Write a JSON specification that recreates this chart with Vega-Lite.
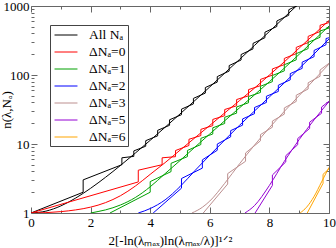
{
  "$schema": "https://vega.github.io/schema/vega-lite/v6.json",
  "width": 298,
  "height": 207,
  "autosize": "none",
  "padding": {"left": 31, "top": 6, "right": 7, "bottom": 35},
  "background": "white",
  "datasets": {
    "smooth": [
      {"s":"All Nₐ","x":0,"n":1},{"s":"All Nₐ","x":0.5,"n":1.064},{"s":"All Nₐ","x":1,"n":1.266},{"s":"All Nₐ","x":1.5,"n":1.647},{"s":"All Nₐ","x":2,"n":2.28},{"s":"All Nₐ","x":2.5,"n":3.29},{"s":"All Nₐ","x":3,"n":4.88},{"s":"All Nₐ","x":3.5,"n":7.38},{"s":"All Nₐ","x":4,"n":11.3},{"s":"All Nₐ","x":4.5,"n":17.48},{"s":"All Nₐ","x":5,"n":27.24},{"s":"All Nₐ","x":5.5,"n":42.7},{"s":"All Nₐ","x":6,"n":67.2},{"s":"All Nₐ","x":6.5,"n":106.3},{"s":"All Nₐ","x":7,"n":168.6},{"s":"All Nₐ","x":7.5,"n":268.2},{"s":"All Nₐ","x":8,"n":427.6},{"s":"All Nₐ","x":8.5,"n":683.2},{"s":"All Nₐ","x":9,"n":1093.6},
      {"s":"ΔNₐ=0","x":0,"n":1},{"s":"ΔNₐ=0","x":0.5,"n":1.012},{"s":"ΔNₐ=0","x":1,"n":1.047},{"s":"ΔNₐ=0","x":1.5,"n":1.109},{"s":"ΔNₐ=0","x":2,"n":1.216},{"s":"ΔNₐ=0","x":2.5,"n":1.413},{"s":"ΔNₐ=0","x":3,"n":1.778},{"s":"ΔNₐ=0","x":3.5,"n":2.455},{"s":"ΔNₐ=0","x":4,"n":3.631},{"s":"ΔNₐ=0","x":4.5,"n":5.37},{"s":"ΔNₐ=0","x":5,"n":8.13},{"s":"ΔNₐ=0","x":5.5,"n":12.3},{"s":"ΔNₐ=0","x":6,"n":18.6},{"s":"ΔNₐ=0","x":6.5,"n":28.2},{"s":"ΔNₐ=0","x":7,"n":42.7},{"s":"ΔNₐ=0","x":7.5,"n":64.6},{"s":"ΔNₐ=0","x":8,"n":100},{"s":"ΔNₐ=0","x":8.5,"n":155},{"s":"ΔNₐ=0","x":9,"n":245.5},{"s":"ΔNₐ=0","x":9.5,"n":389},{"s":"ΔNₐ=0","x":10,"n":617},
      {"s":"ΔNₐ=1","x":2,"n":1},{"s":"ΔNₐ=1","x":2.25,"n":1.05},{"s":"ΔNₐ=1","x":2.5,"n":1.109},{"s":"ΔNₐ=1","x":3,"n":1.306},{"s":"ΔNₐ=1","x":3.5,"n":1.675},{"s":"ΔNₐ=1","x":4,"n":2.399},{"s":"ΔNₐ=1","x":4.5,"n":3.72},{"s":"ΔNₐ=1","x":5,"n":5.75},{"s":"ΔNₐ=1","x":5.5,"n":9.0},{"s":"ΔNₐ=1","x":6,"n":14.0},{"s":"ΔNₐ=1","x":6.5,"n":21.7},{"s":"ΔNₐ=1","x":7,"n":33.5},{"s":"ΔNₐ=1","x":7.5,"n":51.5},{"s":"ΔNₐ=1","x":8,"n":80},{"s":"ΔNₐ=1","x":8.5,"n":125.6},{"s":"ΔNₐ=1","x":9,"n":199.5},{"s":"ΔNₐ=1","x":9.5,"n":320},{"s":"ΔNₐ=1","x":10,"n":512},
      {"s":"ΔNₐ=2","x":3.6,"n":1},{"s":"ΔNₐ=2","x":4,"n":1.16},{"s":"ΔNₐ=2","x":4.5,"n":1.55},{"s":"ΔNₐ=2","x":5,"n":2.41},{"s":"ΔNₐ=2","x":5.5,"n":4.11},{"s":"ΔNₐ=2","x":6,"n":6.89},{"s":"ΔNₐ=2","x":6.5,"n":11.4},{"s":"ΔNₐ=2","x":7,"n":18.7},{"s":"ΔNₐ=2","x":7.5,"n":30.1},{"s":"ΔNₐ=2","x":8,"n":48.1},{"s":"ΔNₐ=2","x":8.5,"n":76.9},{"s":"ΔNₐ=2","x":9,"n":124.5},{"s":"ΔNₐ=2","x":9.5,"n":202},{"s":"ΔNₐ=2","x":10,"n":333},
      {"s":"ΔNₐ=3","x":5.4,"n":1},{"s":"ΔNₐ=3","x":5.75,"n":1.21},{"s":"ΔNₐ=3","x":6,"n":1.49},{"s":"ΔNₐ=3","x":6.5,"n":2.69},{"s":"ΔNₐ=3","x":7,"n":5.18},{"s":"ΔNₐ=3","x":7.5,"n":9.64},{"s":"ΔNₐ=3","x":8,"n":17.2},{"s":"ΔNₐ=3","x":8.5,"n":29.7},{"s":"ΔNₐ=3","x":9,"n":50.4},{"s":"ΔNₐ=3","x":9.5,"n":85.1},{"s":"ΔNₐ=3","x":10,"n":144},
      {"s":"ΔNₐ=5","x":7.18,"n":1},{"s":"ΔNₐ=5","x":7.5,"n":1.28},{"s":"ΔNₐ=5","x":8,"n":2.51},{"s":"ΔNₐ=5","x":8.5,"n":5.6},{"s":"ΔNₐ=5","x":9,"n":11.6},{"s":"ΔNₐ=5","x":9.5,"n":22.4},{"s":"ΔNₐ=5","x":10,"n":41.3},
      {"s":"ΔNₐ=6","x":9.03,"n":1},{"s":"ΔNₐ=6","x":9.25,"n":1.216},{"s":"ΔNₐ=6","x":9.5,"n":1.738},{"s":"ΔNₐ=6","x":9.75,"n":2.82},{"s":"ΔNₐ=6","x":10,"n":4.58}
    ],
    "jagged": [
      {"s":"All Nₐ","x":0,"n":1},{"s":"All Nₐ","x":1.75,"n":2.0},{"s":"All Nₐ","x":1.75,"n":3.02},{"s":"All Nₐ","x":3.05,"n":5.01},{"s":"All Nₐ","x":3.05,"n":6.31},{"s":"All Nₐ","x":3.45,"n":6.61},{"s":"All Nₐ","x":3.45,"n":7.94},{"s":"All Nₐ","x":3.85,"n":9.29},{"s":"All Nₐ","x":3.85,"n":11.17},{"s":"All Nₐ","x":4.25,"n":13.12},{"s":"All Nₐ","x":4.25,"n":15.78},{"s":"All Nₐ","x":4.65,"n":18.66},{"s":"All Nₐ","x":4.65,"n":22.44},{"s":"All Nₐ","x":5.05,"n":26.6},{"s":"All Nₐ","x":5.05,"n":32.0},{"s":"All Nₐ","x":5.45,"n":38.1},{"s":"All Nₐ","x":5.45,"n":45.8},{"s":"All Nₐ","x":5.85,"n":54.7},{"s":"All Nₐ","x":5.85,"n":65.8},{"s":"All Nₐ","x":6.25,"n":78.9},{"s":"All Nₐ","x":6.25,"n":94.8},{"s":"All Nₐ","x":6.65,"n":114},{"s":"All Nₐ","x":6.65,"n":137},{"s":"All Nₐ","x":7.05,"n":165},{"s":"All Nₐ","x":7.05,"n":198},{"s":"All Nₐ","x":7.45,"n":239},{"s":"All Nₐ","x":7.45,"n":287},{"s":"All Nₐ","x":7.85,"n":347},{"s":"All Nₐ","x":7.85,"n":417},{"s":"All Nₐ","x":8.25,"n":505},{"s":"All Nₐ","x":8.25,"n":607},{"s":"All Nₐ","x":8.65,"n":735},{"s":"All Nₐ","x":8.65,"n":883},{"s":"All Nₐ","x":9.05,"n":1072},
      {"s":"ΔNₐ=0","x":0,"n":1},{"s":"ΔNₐ=0","x":3.6,"n":2.82},{"s":"ΔNₐ=0","x":3.6,"n":4.17},{"s":"ΔNₐ=0","x":4.4,"n":5.01},{"s":"ΔNₐ=0","x":4.4,"n":6.31},{"s":"ΔNₐ=0","x":4.85,"n":6.55},{"s":"ΔNₐ=0","x":4.85,"n":8.05},{"s":"ΔNₐ=0","x":5.3,"n":9.51},{"s":"ΔNₐ=0","x":5.3,"n":11.7},{"s":"ΔNₐ=0","x":5.7,"n":13.24},{"s":"ΔNₐ=0","x":5.7,"n":16.3},{"s":"ΔNₐ=0","x":6.1,"n":18.45},{"s":"ΔNₐ=0","x":6.1,"n":22.7},{"s":"ΔNₐ=0","x":6.5,"n":25.7},{"s":"ΔNₐ=0","x":6.5,"n":31.6},{"s":"ΔNₐ=0","x":6.9,"n":35.8},{"s":"ΔNₐ=0","x":6.9,"n":44.1},{"s":"ΔNₐ=0","x":7.3,"n":49.9},{"s":"ΔNₐ=0","x":7.3,"n":61.4},{"s":"ΔNₐ=0","x":7.7,"n":70.1},{"s":"ΔNₐ=0","x":7.7,"n":86.3},{"s":"ΔNₐ=0","x":8.1,"n":99.5},{"s":"ΔNₐ=0","x":8.1,"n":122.5},{"s":"ΔNₐ=0","x":8.5,"n":141.3},{"s":"ΔNₐ=0","x":8.5,"n":173.8},{"s":"ΔNₐ=0","x":8.9,"n":204.2},{"s":"ΔNₐ=0","x":8.9,"n":251.2},{"s":"ΔNₐ=0","x":9.3,"n":295},{"s":"ΔNₐ=0","x":9.3,"n":363},{"s":"ΔNₐ=0","x":9.7,"n":427},{"s":"ΔNₐ=0","x":9.7,"n":525},{"s":"ΔNₐ=0","x":10,"n":575},
      {"s":"ΔNₐ=1","x":2.65,"n":1},{"s":"ΔNₐ=1","x":4.0,"n":2.0},{"s":"ΔNₐ=1","x":4.0,"n":2.85},{"s":"ΔNₐ=1","x":4.7,"n":3.98},{"s":"ΔNₐ=1","x":4.7,"n":5.25},{"s":"ΔNₐ=1","x":5.25,"n":6.56},{"s":"ΔNₐ=1","x":5.25,"n":8.07},{"s":"ΔNₐ=1","x":5.7,"n":9.82},{"s":"ΔNₐ=1","x":5.7,"n":12.08},{"s":"ΔNₐ=1","x":6.1,"n":13.96},{"s":"ΔNₐ=1","x":6.1,"n":17.18},{"s":"ΔNₐ=1","x":6.5,"n":19.82},{"s":"ΔNₐ=1","x":6.5,"n":24.4},{"s":"ΔNₐ=1","x":6.9,"n":28.0},{"s":"ΔNₐ=1","x":6.9,"n":34.4},{"s":"ΔNₐ=1","x":7.3,"n":39.6},{"s":"ΔNₐ=1","x":7.3,"n":48.8},{"s":"ΔNₐ=1","x":7.7,"n":55.8},{"s":"ΔNₐ=1","x":7.7,"n":68.7},{"s":"ΔNₐ=1","x":8.1,"n":80.0},{"s":"ΔNₐ=1","x":8.1,"n":98.4},{"s":"ΔNₐ=1","x":8.5,"n":114.6},{"s":"ΔNₐ=1","x":8.5,"n":140.9},{"s":"ΔNₐ=1","x":8.9,"n":165.6},{"s":"ΔNₐ=1","x":8.9,"n":203.7},{"s":"ΔNₐ=1","x":9.3,"n":241.5},{"s":"ΔNₐ=1","x":9.3,"n":297},{"s":"ΔNₐ=1","x":9.7,"n":352},{"s":"ΔNₐ=1","x":9.7,"n":434},{"s":"ΔNₐ=1","x":10,"n":479},
      {"s":"ΔNₐ=2","x":4.1,"n":1},{"s":"ΔNₐ=2","x":5.05,"n":2.29},{"s":"ΔNₐ=2","x":5.05,"n":3.16},{"s":"ΔNₐ=2","x":5.75,"n":4.47},{"s":"ΔNₐ=2","x":5.75,"n":5.89},{"s":"ΔNₐ=2","x":6.25,"n":8.11},{"s":"ΔNₐ=2","x":6.25,"n":9.98},{"s":"ΔNₐ=2","x":6.7,"n":12.7},{"s":"ΔNₐ=2","x":6.7,"n":15.63},{"s":"ΔNₐ=2","x":7.1,"n":18.75},{"s":"ΔNₐ=2","x":7.1,"n":23.07},{"s":"ΔNₐ=2","x":7.5,"n":27.5},{"s":"ΔNₐ=2","x":7.5,"n":33.8},{"s":"ΔNₐ=2","x":7.9,"n":40.0},{"s":"ΔNₐ=2","x":7.9,"n":49.2},{"s":"ΔNₐ=2","x":8.3,"n":57.8},{"s":"ΔNₐ=2","x":8.3,"n":71.1},{"s":"ΔNₐ=2","x":8.7,"n":85.1},{"s":"ΔNₐ=2","x":8.7,"n":104.7},{"s":"ΔNₐ=2","x":9.1,"n":124.7},{"s":"ΔNₐ=2","x":9.1,"n":153.5},{"s":"ΔNₐ=2","x":9.5,"n":184.5},{"s":"ΔNₐ=2","x":9.5,"n":227},{"s":"ΔNₐ=2","x":9.9,"n":274.8},{"s":"ΔNₐ=2","x":9.9,"n":338},{"s":"ΔNₐ=2","x":10,"n":346.7},
      {"s":"ΔNₐ=3","x":5.78,"n":1},{"s":"ΔNₐ=3","x":6.6,"n":2.63},{"s":"ΔNₐ=3","x":6.6,"n":3.72},{"s":"ΔNₐ=3","x":7.2,"n":5.62},{"s":"ΔNₐ=3","x":7.2,"n":7.41},{"s":"ΔNₐ=3","x":7.7,"n":11.12},{"s":"ΔNₐ=3","x":7.7,"n":13.68},{"s":"ΔNₐ=3","x":8.1,"n":17.5},{"s":"ΔNₐ=3","x":8.1,"n":21.5},{"s":"ΔNₐ=3","x":8.5,"n":27.1},{"s":"ΔNₐ=3","x":8.5,"n":33.3},{"s":"ΔNₐ=3","x":8.9,"n":41.4},{"s":"ΔNₐ=3","x":8.9,"n":50.9},{"s":"ΔNₐ=3","x":9.3,"n":62.7},{"s":"ΔNₐ=3","x":9.3,"n":77.1},{"s":"ΔNₐ=3","x":9.7,"n":95.9},{"s":"ΔNₐ=3","x":9.7,"n":118},{"s":"ΔNₐ=3","x":10,"n":148},
      {"s":"ΔNₐ=5","x":7.52,"n":1},{"s":"ΔNₐ=5","x":8.1,"n":2.51},{"s":"ΔNₐ=5","x":8.1,"n":3.55},{"s":"ΔNₐ=5","x":8.55,"n":5.5},{"s":"ΔNₐ=5","x":8.55,"n":6.76},{"s":"ΔNₐ=5","x":8.95,"n":9.77},{"s":"ΔNₐ=5","x":8.95,"n":12.0},{"s":"ΔNₐ=5","x":9.35,"n":16.8},{"s":"ΔNₐ=5","x":9.35,"n":20.7},{"s":"ΔNₐ=5","x":9.75,"n":27.9},{"s":"ΔNₐ=5","x":9.75,"n":34.3},{"s":"ΔNₐ=5","x":10,"n":41.7},
      {"s":"ΔNₐ=6","x":9.27,"n":1},{"s":"ΔNₐ=6","x":9.8,"n":2.69},{"s":"ΔNₐ=6","x":9.8,"n":3.63},{"s":"ΔNₐ=6","x":10,"n":4.37}
    ]
  },
  "resolve": {"axis": {"x": "independent", "y": "independent"}},
  "layer": [
    {
      "data": {"name": "smooth"},
      "mark": {"type": "line", "interpolate": "monotone", "strokeWidth": 1, "clip": true},
      "encoding": {
        "x": {"field": "x", "type": "quantitative", "scale": {"domain": [0, 10], "nice": false, "zero": false},
          "axis": {"orient": "bottom", "values": [0, 2, 4, 6, 8, 10], "ticks": false, "domain": true, "labelPadding": 3, "labelFlush": false, "title": "2[-ln(λₘₐₓ)ln(λₘₐₓ/λ)]¹ᐟ²", "titlePadding": 5, "titleX": 139}},
        "y": {"field": "n", "type": "quantitative", "scale": {"type": "log", "domain": [1, 1000], "nice": false},
          "axis": {"orient": "left", "values": [1, 10, 100, 1000], "format": "d", "ticks": false, "domain": false, "labelPadding": 2, "title": "n(λ,Nₐ)", "titleX": -18}},
        "color": {"field": "s", "type": "nominal",
          "scale": {"domain": ["All Nₐ", "ΔNₐ=0", "ΔNₐ=1", "ΔNₐ=2", "ΔNₐ=3", "ΔNₐ=5", "ΔNₐ=6"], "range": ["#000000", "#ff0000", "#00a000", "#0000ff", "#bc8f8f", "#9400d3", "#ffa500"]},
          "legend": {"title": null, "orient": "none", "legendX": 19, "legendY": 19, "symbolType": "M-0.73,0H2.33", "symbolSize": 225, "symbolStrokeWidth": 1, "labelOffset": 21, "rowPadding": 2, "padding": 2, "strokeColor": "#444", "fillColor": "white", "labelFont": "Liberation Serif", "labelFontSize": 13.5, "labelLimit": 0, "labelColor": "black"}},
        "order": [{"field": "x", "type": "quantitative"}, {"field": "n", "type": "quantitative"}]
      }
    },
    {
      "data": {"name": "jagged"},
      "mark": {"type": "line", "strokeWidth": 1, "clip": true},
      "encoding": {
        "x": {"field": "x", "type": "quantitative", "axis": {"orient": "bottom", "values": [0, 2, 4, 6, 8, 10], "tickSize": -6, "labels": false, "domain": false, "title": null}},
        "y": {"field": "n", "type": "quantitative", "axis": {"orient": "left", "values": [1, 10, 100, 1000], "tickSize": -6, "labels": false, "domain": false, "title": null}},
        "color": {"field": "s", "type": "nominal"},
        "order": [{"field": "x", "type": "quantitative"}, {"field": "n", "type": "quantitative"}]
      }
    },
    {
      "data": {"name": "smooth"},
      "mark": {"type": "point", "opacity": 0},
      "encoding": {
        "x": {"field": "x", "type": "quantitative", "axis": {"orient": "bottom", "values": [1, 3, 5, 7, 9], "tickSize": -3, "labels": false, "domain": false, "title": null}},
        "y": {"field": "n", "type": "quantitative", "axis": {"orient": "left", "values": [2, 3, 4, 5, 6, 7, 8, 9, 20, 30, 40, 50, 60, 70, 80, 90, 200, 300, 400, 500, 600, 700, 800, 900], "tickSize": -3, "labels": false, "domain": false, "title": null}}
      }
    },
    {
      "data": {"name": "smooth"},
      "mark": {"type": "point", "opacity": 0},
      "encoding": {
        "x": {"field": "x", "type": "quantitative", "axis": {"orient": "top", "values": [0, 2, 4, 6, 8, 10], "tickSize": -6, "labels": false, "domain": true, "title": null}},
        "y": {"field": "n", "type": "quantitative", "axis": {"orient": "right", "values": [1, 10, 100, 1000], "tickSize": -6, "labels": false, "domain": true, "title": null}}
      }
    },
    {
      "data": {"name": "smooth"},
      "mark": {"type": "point", "opacity": 0},
      "encoding": {
        "x": {"field": "x", "type": "quantitative", "axis": {"orient": "top", "values": [1, 3, 5, 7, 9], "tickSize": -3, "labels": false, "domain": false, "title": null}},
        "y": {"field": "n", "type": "quantitative", "axis": {"orient": "right", "values": [2, 3, 4, 5, 6, 7, 8, 9, 20, 30, 40, 50, 60, 70, 80, 90, 200, 300, 400, 500, 600, 700, 800, 900], "tickSize": -3, "labels": false, "domain": false, "title": null}}
      }
    }
  ],
  "config": {
    "font": "Liberation Serif",
    "view": {"stroke": null},
    "axis": {"grid": false, "labelFont": "Liberation Serif", "labelFontSize": 13, "labelColor": "black", "titleFont": "Liberation Serif", "titleFontSize": 13, "titleFontWeight": "normal", "titleColor": "black", "tickColor": "#666", "domainColor": "#666", "tickWidth": 1, "domainWidth": 1}
  }
}
